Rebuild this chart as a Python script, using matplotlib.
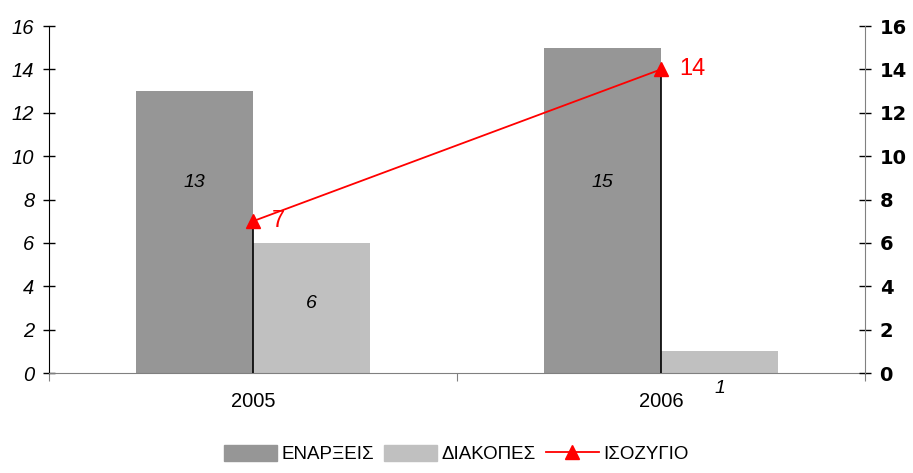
import numpy as np
import matplotlib
matplotlib.use('Agg')
import matplotlib.pyplot as plt
from matplotlib.patches import Patch
from matplotlib.lines import Line2D

years = ['2005', '2006']
enarxeis = [13, 15]
diakopes = [6, 1]
isozygio = [7, 14]
series_names = ['ΕΝΑΡΞΕΙΣ', 'ΔΙΑΚΟΠΕΣ', 'ΙΣΟΖΥΓΙΟ']

c_enar = '#969696'
c_diak = '#c0c0c0'
c_line = '#ff0000'

plt.rcParams['font.family'] = ['Liberation Sans', 'DejaVu Sans']

fig = plt.figure(figsize=(9.13, 4.73), dpi=100)
ax = fig.add_axes([49/913, 1-373/473, (865-49)/913, (373-26)/473])

x = np.arange(len(years))
w = 0.287
ax.bar(x - w/2, enarxeis, w, color=c_enar)
ax.bar(x + w/2, diakopes, w, color=c_diak)
ax.vlines(x, 0, isozygio, color='black', lw=1.2, zorder=3)
ax.plot(x, isozygio, color=c_line, marker='^', ms=10, lw=1.3, zorder=4)

# value labels (placed like the spreadsheet did)
for i in range(len(years)):
    ax.text(x[i] - w/2, 8.8, str(enarxeis[i]), ha='center', va='center',
            fontsize=14, style='italic')
    ypos = diakopes[i]/2 + 0.2 if diakopes[i] > 2 else -0.7
    ax.text(x[i] + w/2, ypos, str(diakopes[i]), ha='center', va='center',
            fontsize=14, style='italic')
    ax.text(x[i] + 0.045, isozygio[i], str(isozygio[i]), ha='left', va='center',
            fontsize=17, color=c_line)

ax.set_xlim(-0.5, 1.5)
ax.set_ylim(0, 16)
ax.set_yticks(range(0, 17, 2))
ax.set_yticklabels([str(v) for v in range(0, 17, 2)], fontsize=14.5, style='italic')
ax.tick_params(axis='y', direction='inout', length=9, width=1, pad=6)
ax.set_xticks([-0.5, 0.5, 1.5])
ax.set_xticklabels([])
ax.set_xticks(x, minor=True)
ax.set_xticklabels(years, minor=True, fontsize=14.5)
ax.tick_params(axis='x', which='major', direction='out', length=6, color='#808080')
ax.tick_params(axis='x', which='minor', length=0, pad=14)

ax.spines['top'].set_visible(False)
ax.spines['right'].set_visible(False)
ax.spines['bottom'].set_color('#808080')
ax.spines['left'].set_color('black')

ax2 = ax.twinx()
ax2.set_ylim(0, 16)
ax2.set_yticks(range(0, 17, 2))
ax2.set_yticklabels([str(v) for v in range(0, 17, 2)], fontsize=14, fontweight='bold',
                    family='DejaVu Sans')
ax2.tick_params(axis='y', direction='inout', length=9, width=1, pad=6, color='black')
for s in ['top', 'left', 'bottom']:
    ax2.spines[s].set_visible(False)
ax2.spines['right'].set_color('#808080')

handles = [Patch(color=c_enar), Patch(color=c_diak),
           Line2D([0], [0], color=c_line, marker='^', ms=10, lw=1.3)]
fig.legend(handles, series_names, loc='lower center', bbox_to_anchor=(0.5, -0.015),
           ncol=3, frameon=False, fontsize=13.5, handlelength=2.8, handleheight=0.9,
           handletextpad=0.25, columnspacing=0.55)

fig.savefig('out.png', dpi=100)
